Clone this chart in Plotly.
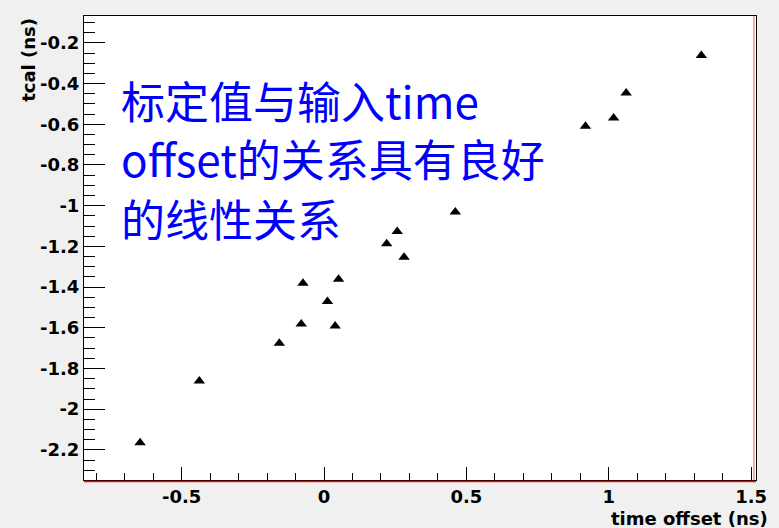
import plotly.graph_objects as go

# data
time_offset = [-0.646, -0.438, -0.157, -0.080, -0.074, 0.012, 0.039, 0.051,
               0.220, 0.257, 0.281, 0.461, 0.918, 1.017, 1.061, 1.325]
tcal = [-2.165, -1.861, -1.676, -1.582, -1.381, -1.471, -1.591, -1.361,
        -1.187, -1.127, -1.253, -1.031, -0.610, -0.569, -0.446, -0.262]

x_tick_vals = [-0.5, 0, 0.5, 1, 1.5]
x_tick_text = ["-0.5", "0", "0.5", "1", "1.5"]
y_tick_vals = [-2.2, -2.0, -1.8, -1.6, -1.4, -1.2, -1.0, -0.8, -0.6, -0.4, -0.2]
y_tick_text = ["-2.2", "-2", "-1.8", "-1.6", "-1.4", "-1.2", "-1", "-0.8", "-0.6", "-0.4", "-0.2"]

x_title = "time offset (ns)"
y_title = "tcal (ns)"
note_lines = ["标定值与输入time", "offset的关系具有良好", "的线性关系"]
note_line_y = [0.8190, 0.6940, 0.5647]

tick_font = dict(family="DejaVu Sans", size=18, color="black", weight="bold")

fig = go.Figure()
fig.add_trace(go.Scatter(
    x=time_offset, y=tcal, mode="markers",
    marker=dict(symbol="triangle-up", size=10, color="black"),
    showlegend=False,
))

fig.update_layout(
    width=779, height=528,
    margin=dict(l=84, r=13, t=16, b=48),
    paper_bgcolor="#f0f0f0",
    plot_bgcolor="white",
    xaxis=dict(
        range=[-0.843, 1.517], tickmode="array", tickvals=x_tick_vals, ticktext=x_tick_text,
        ticks="inside", ticklen=13, tickwidth=1, tickcolor="black",
        minor=dict(dtick=0.1, tick0=0, ticks="inside", ticklen=7, tickcolor="black", showgrid=False),
        showline=True, linecolor="black", linewidth=1, mirror=True,
        showgrid=False, zeroline=False, tickfont=tick_font,
    ),
    yaxis=dict(
        range=[-2.348, -0.068], tickmode="array", tickvals=y_tick_vals, ticktext=y_tick_text,
        ticks="inside", ticklen=21, tickwidth=1, tickcolor="black",
        minor=dict(dtick=0.05, tick0=0, ticks="inside", ticklen=11, tickcolor="black", showgrid=False),
        showline=True, linecolor="black", linewidth=1, mirror=True,
        showgrid=False, zeroline=False, tickfont=tick_font,
    ),
)

for line, ly in zip(note_lines, note_line_y):
    fig.add_annotation(
        text=line, xref="paper", yref="paper", x=0.052, y=ly,
        xanchor="left", yanchor="middle", align="left", showarrow=False,
        font=dict(family="Noto Sans CJK SC", size=44, color="#0000ff"),
    )
fig.add_annotation(
    text=y_title, xref="paper", yref="paper", x=-0.0836, y=1.0,
    xanchor="center", yanchor="top", textangle=-90, showarrow=False,
    font=tick_font,
)
fig.add_annotation(
    text=x_title, xref="paper", yref="paper", x=1.0, y=-0.082, xshift=14,
    xanchor="right", yanchor="middle", showarrow=False,
    font=tick_font,
)
# red frame lines as in the reference
fig.add_shape(type="line", xref="paper", yref="paper", x0=0, x1=1, y0=-0.003, y1=-0.003,
              line=dict(color="red", width=1.5))
fig.add_shape(type="line", xref="paper", yref="paper", x0=0.997, x1=0.997, y0=0, y1=1,
              line=dict(color="#e06060", width=1))

fig.write_html("out.html")
